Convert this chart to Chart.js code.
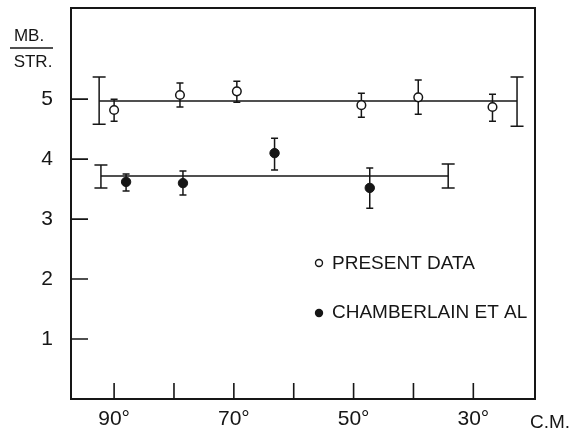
<!DOCTYPE html>
<html>
<head>
<meta charset="utf-8">
<script src="https://cdn.jsdelivr.net/npm/chart.js@4.4.0/dist/chart.umd.min.js"></script>
<style>
  html, body { margin: 0; padding: 0; background: #fff; }
  #wrap { width: 573px; height: 432px; position: relative; }
</style>
</head>
<body>
<div id="wrap"><canvas id="xsec"></canvas></div>
<script>
// ── DATA ───────────────────────────────────────────────────────
const presentAngle = [90, 79, 69.5, 48.7, 39.2, 26.8];
const presentValue = [4.82, 5.07, 5.13, 4.90, 5.03, 4.87];
const presentHigh  = [5.00, 5.27, 5.30, 5.10, 5.32, 5.08];
const presentLow   = [4.63, 4.87, 4.95, 4.70, 4.75, 4.63];

const chamberAngle = [88, 78.5, 63.2, 47.3];
const chamberValue = [3.62, 3.60, 4.10, 3.52];
const chamberHigh  = [3.75, 3.80, 4.35, 3.85];
const chamberLow   = [3.47, 3.40, 3.82, 3.18];

// average lines, with the error bar drawn at each end
const presentFitAngle = [92.5, 22.7];
const presentFitValue = [4.97, 4.97];
const presentFitHigh  = [5.37, 5.37];
const presentFitLow   = [4.58, 4.55];

const chamberFitAngle = [92.2, 34.2];
const chamberFitValue = [3.72, 3.72];
const chamberFitHigh  = [3.90, 3.92];
const chamberFitLow   = [3.52, 3.52];

const xTicks = [90, 80, 70, 60, 50, 40, 30];
const xLabelled = [90, 70, 50, 30];
const yTicks = [1, 2, 3, 4, 5];

const INK = '#161616';
const FONT = "'Liberation Sans', Arial, sans-serif";

const pts = (xs, ys) => xs.map((x, i) => ({ x, y: ys[i] }));

// ── ERROR BARS / FRAME / TEXT ─────────────────────────────────
const errorSets = [
  { xs: presentAngle, hi: presentHigh, lo: presentLow, cap: 3.5 },
  { xs: chamberAngle, hi: chamberHigh, lo: chamberLow, cap: 3.5 },
  { xs: presentFitAngle, hi: presentFitHigh, lo: presentFitLow, cap: 6.5 },
  { xs: chamberFitAngle, hi: chamberFitHigh, lo: chamberFitLow, cap: 6.5 },
];

const paperPlugin = {
  id: 'paper',
  beforeDatasetsDraw(chart) {
    const { ctx, scales: { x, y } } = chart;
    ctx.save();
    ctx.strokeStyle = INK;
    ctx.lineWidth = 1.5;
    errorSets.forEach(s => {
      s.xs.forEach((a, i) => {
        const px = x.getPixelForValue(a);
        const top = y.getPixelForValue(s.hi[i]);
        const bot = y.getPixelForValue(s.lo[i]);
        ctx.beginPath();
        ctx.moveTo(px, top); ctx.lineTo(px, bot);
        ctx.moveTo(px - s.cap, top); ctx.lineTo(px + s.cap, top);
        ctx.moveTo(px - s.cap, bot); ctx.lineTo(px + s.cap, bot);
        ctx.stroke();
      });
    });
    ctx.restore();
  },
  afterDraw(chart) {
    const { ctx, chartArea: ca, scales: { x, y } } = chart;
    ctx.save();
    ctx.strokeStyle = INK;
    ctx.fillStyle = INK;

    // frame
    ctx.lineWidth = 2;
    ctx.strokeRect(ca.left, ca.top, ca.right - ca.left, ca.bottom - ca.top);

    // inward ticks
    ctx.lineWidth = 1.6;
    ctx.beginPath();
    yTicks.forEach(v => {
      const py = y.getPixelForValue(v);
      ctx.moveTo(ca.left, py); ctx.lineTo(ca.left + 17, py);
    });
    xTicks.forEach(v => {
      const px = x.getPixelForValue(v);
      ctx.moveTo(px, ca.bottom); ctx.lineTo(px, ca.bottom - 16);
    });
    ctx.stroke();

    // axis titles
    ctx.font = '17px ' + FONT;
    ctx.textAlign = 'center';
    ctx.textBaseline = 'alphabetic';
    ctx.fillText('MB.', 29, 41);
    ctx.fillText('STR.', 33, 67);
    ctx.lineWidth = 1.5;
    ctx.beginPath();
    ctx.moveTo(10, 48); ctx.lineTo(53, 48);
    ctx.stroke();

    ctx.font = '19px ' + FONT;
    ctx.textAlign = 'left';
    ctx.fillText('C.M.', 530, 428);

    // legend
    const lx = ca.left + 248;
    ctx.font = '19px ' + FONT;
    ctx.textBaseline = 'middle';
    ctx.lineWidth = 1.4;
    ctx.beginPath();
    ctx.arc(lx, 263, 3.5, 0, Math.PI * 2);
    ctx.stroke();
    ctx.fillText('PRESENT DATA', lx + 13, 264);
    ctx.beginPath();
    ctx.arc(lx, 313, 4.2, 0, Math.PI * 2);
    ctx.fill();
    ctx.fillText('CHAMBERLAIN ET AL', lx + 13, 313);
    ctx.restore();
  }
};

// ── CHART ─────────────────────────────────────────────────────
new Chart(document.getElementById('xsec').getContext('2d'), {
  type: 'scatter',
  data: {
    datasets: [
      { label: 'present avg', type: 'line', data: pts(presentFitAngle, presentFitValue),
        borderColor: INK, borderWidth: 1.5, pointRadius: 0, fill: false, order: 2 },
      { label: 'chamberlain avg', type: 'line', data: pts(chamberFitAngle, chamberFitValue),
        borderColor: INK, borderWidth: 1.5, pointRadius: 0, fill: false, order: 2 },
      { label: 'PRESENT DATA', data: pts(presentAngle, presentValue),
        pointRadius: 4.3, borderWidth: 1.5, borderColor: INK, backgroundColor: '#fff', order: 1 },
      { label: 'CHAMBERLAIN ET AL', data: pts(chamberAngle, chamberValue),
        pointRadius: 4.7, borderWidth: 1, borderColor: INK, backgroundColor: INK, order: 1 },
    ]
  },
  options: {
    responsive: true,
    maintainAspectRatio: false,
    animation: false,
    layout: { padding: { left: 0, right: 38, top: 8, bottom: 0 } },
    plugins: { legend: { display: false }, tooltip: { enabled: false } },
    scales: {
      x: {
        type: 'linear', reverse: true, min: 19.7, max: 97.2,
        afterBuildTicks: s => { s.ticks = xTicks.map(v => ({ value: v })); },
        afterFit: s => { s.height = 33; s.paddingLeft = 0; s.paddingRight = 0; },
        grid: { display: false, drawTicks: false }, border: { display: false },
        ticks: { color: INK, padding: 8, maxRotation: 0, autoSkip: false,
          font: { family: FONT, size: 21 },
          callback: v => xLabelled.includes(v) ? v + '°' : '' }
      },
      y: {
        type: 'linear', min: 0, max: 6.52,
        afterBuildTicks: s => { s.ticks = yTicks.map(v => ({ value: v })); },
        afterFit: s => { s.width = 71; s.paddingTop = 0; s.paddingBottom = 0; },
        grid: { display: false, drawTicks: false }, border: { display: false },
        ticks: { color: INK, padding: 18, font: { family: FONT, size: 21 },
          callback: v => String(v) }
      }
    }
  },
  plugins: [paperPlugin]
});
</script>
</body>
</html>
